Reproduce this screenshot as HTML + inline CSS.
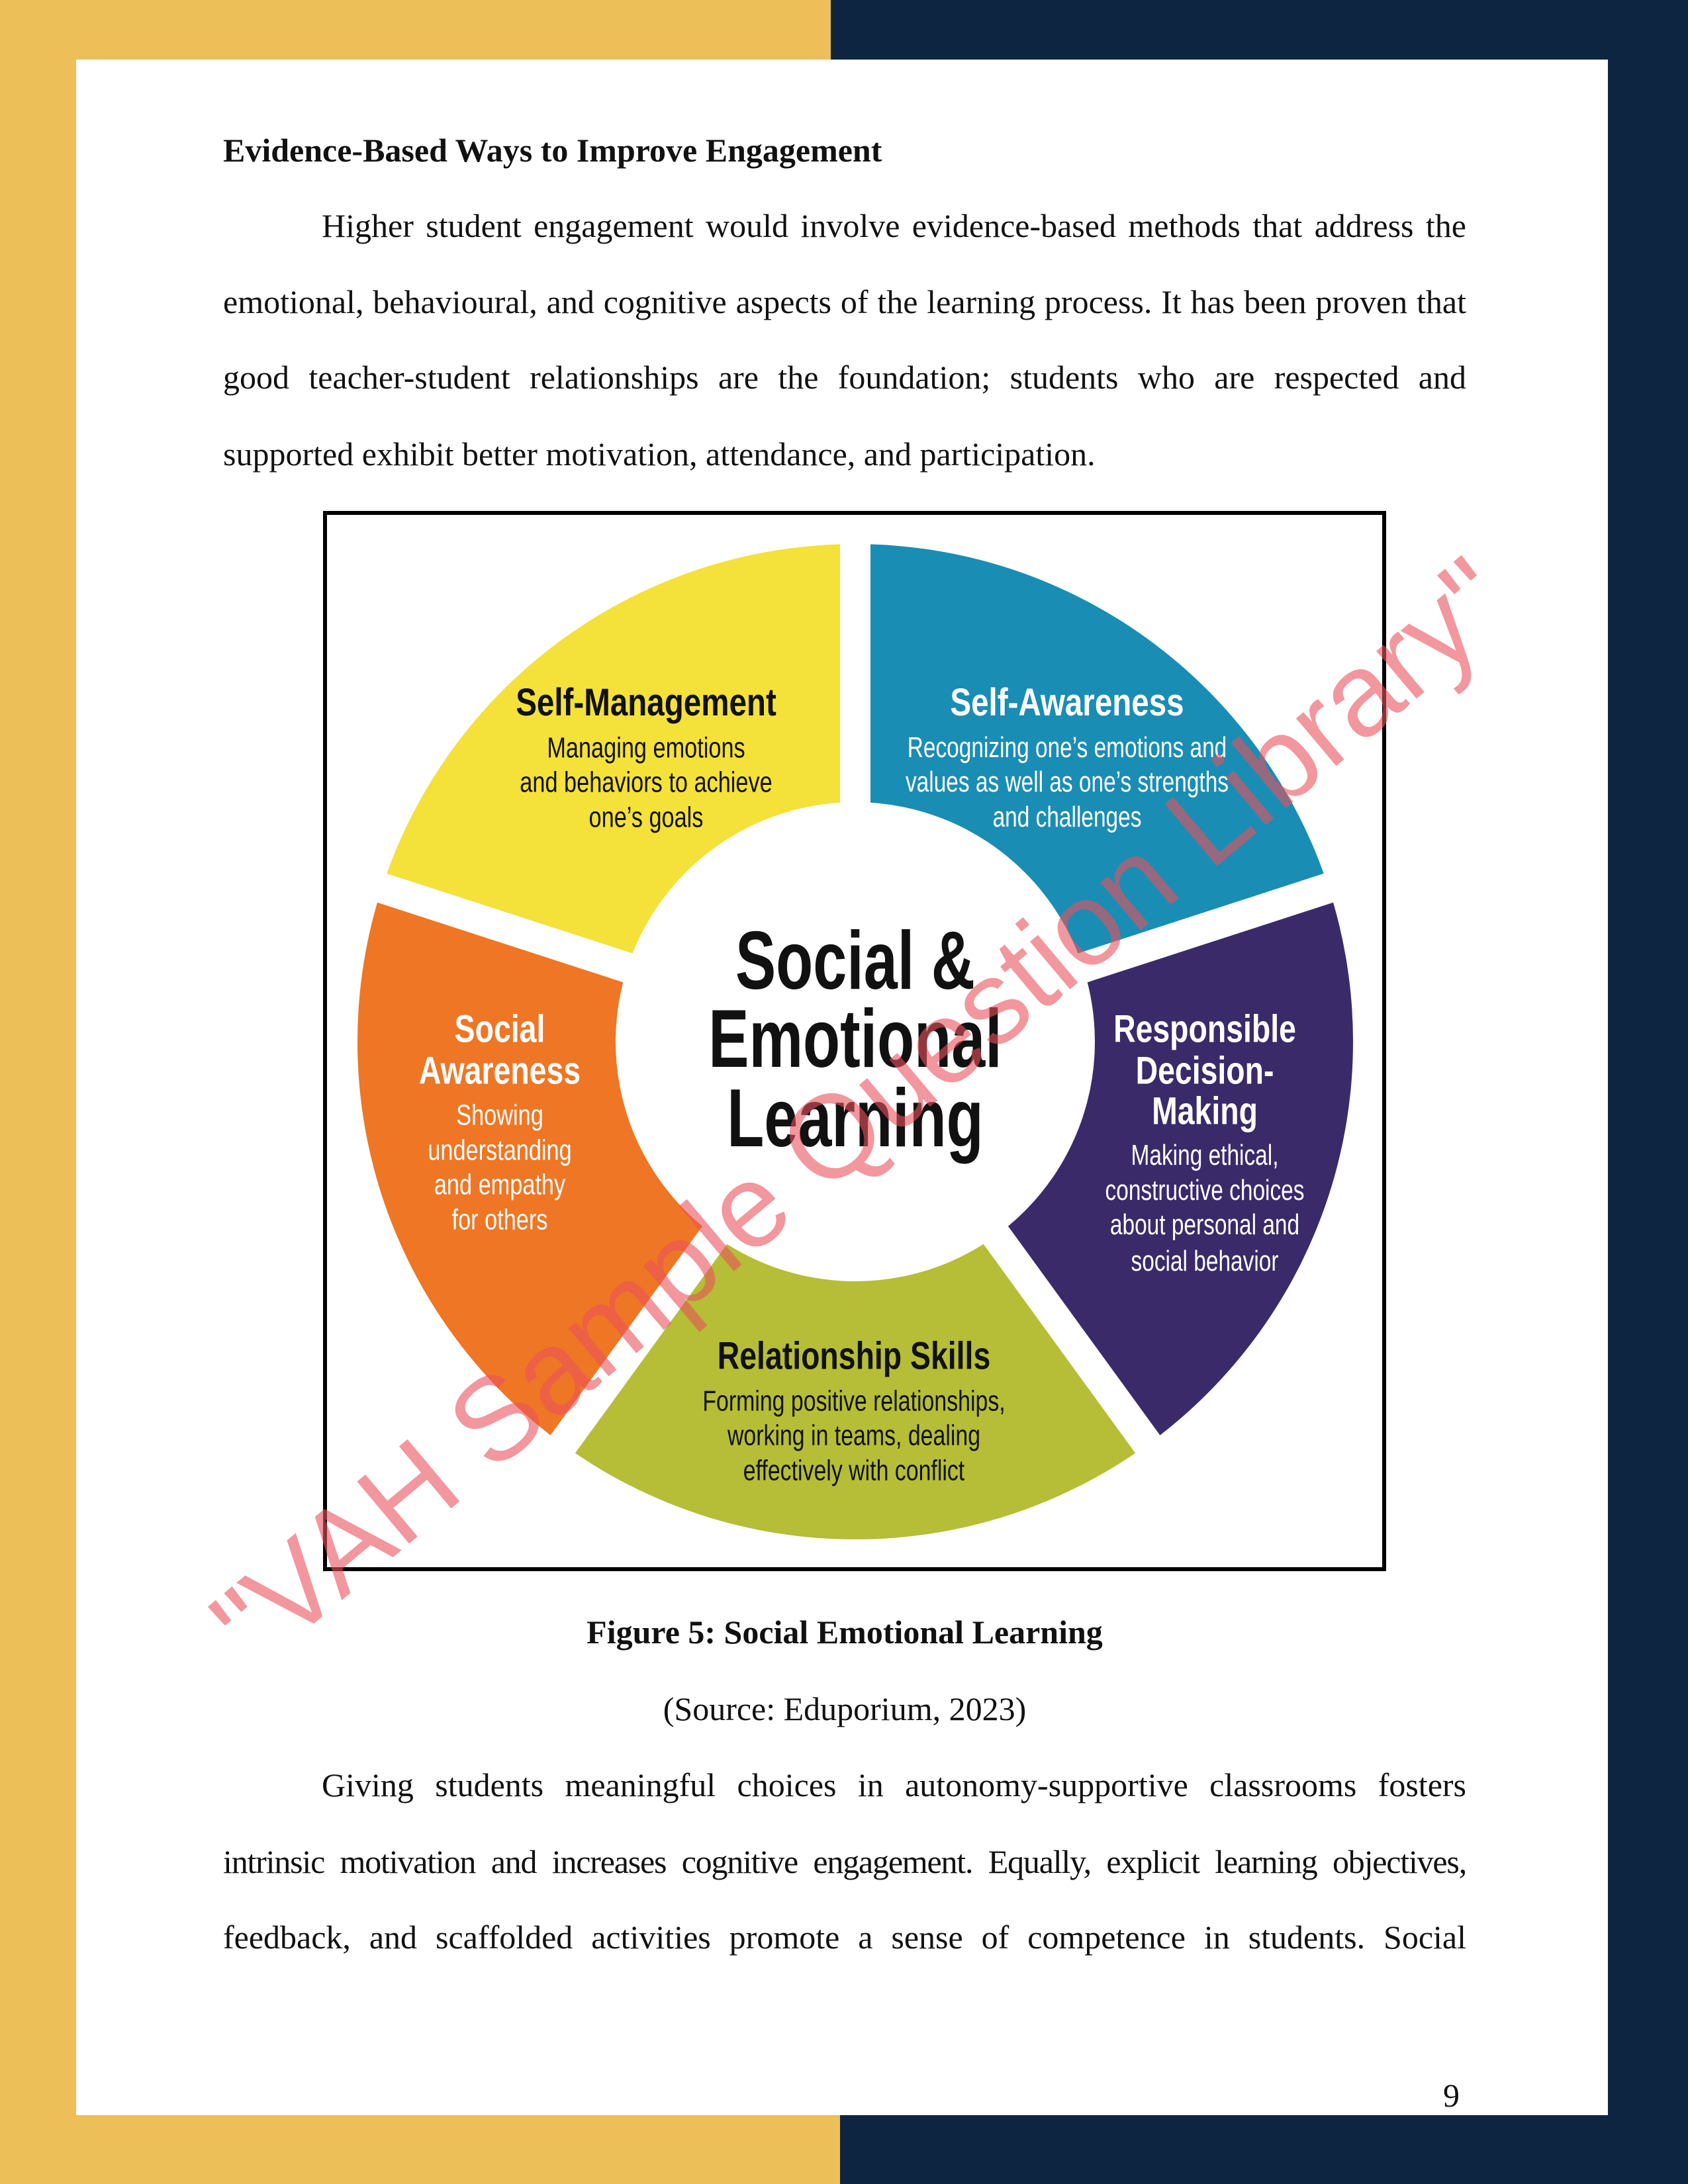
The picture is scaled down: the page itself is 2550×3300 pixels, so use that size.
<!DOCTYPE html>
<html><head><meta charset="utf-8"><style>
html,body{margin:0;padding:0}
body{width:2550px;height:3300px;position:relative;overflow:hidden;background:#0D2541;font-family:"Liberation Serif",serif}
.bg{position:absolute}
.t{position:absolute;left:337px;width:1878px;font-size:50px;line-height:60px;color:#111;white-space:nowrap}
.j{text-align:justify;text-align-last:justify;white-space:normal}
.c{text-align:center}
</style></head><body>
<div class="bg" style="left:0;top:0;width:1255px;height:90px;background:#EDBF59"></div>
<div class="bg" style="left:0;top:0;width:115px;height:3300px;background:#EDBF59"></div>
<div class="bg" style="left:0;top:3196px;width:1269px;height:104px;background:#EDBF59"></div>
<div class="bg" style="left:115px;top:90px;width:2314px;height:3106px;background:#fff"></div>

<div class="t" style="top:197px;font-weight:bold">Evidence-Based Ways to Improve Engagement</div>
<div class="t j" style="top:311px;left:486px;width:1729px">Higher student engagement would involve evidence-based methods that address the</div>
<div class="t j" style="top:426px">emotional, behavioural, and cognitive aspects of the learning process. It has been proven that</div>
<div class="t j" style="top:540px">good teacher-student relationships are the foundation; students who are respected and</div>
<div class="t" style="top:656px">supported exhibit better motivation, attendance, and participation.</div>

<div class="bg" style="left:488px;top:772px;width:1594px;height:1590px;border:6px solid #000;background:#fff"></div>

<svg class="bg" style="left:0;top:0" width="2550" height="3300" viewBox="0 0 2550 3300">
<g>
<path d="M1292 1574 L576.8 1341.6 A752 752 0 0 1 1292 822 Z" fill="#F4E13A"/>
<path d="M1292 1574 L1292 822 A752 752 0 0 1 2007.2 1341.6 Z" fill="#1A8DB4"/>
<path d="M1292 1574 L2007.2 1341.6 A752 752 0 0 1 1734 2182.4 Z" fill="#3A2A6A"/>
<path d="M1292 1574 L1734 2182.4 A752 752 0 0 1 850 2182.4 Z" fill="#B5BE36"/>
<path d="M1292 1574 L850 2182.4 A752 752 0 0 1 576.8 1341.6 Z" fill="#EF7624"/>
<g stroke="#fff" stroke-width="46">
<line x1="1292" y1="1574" x2="1292" y2="790"/>
<line x1="1292" y1="1574" x2="2040" y2="1331"/>
<line x1="1292" y1="1574" x2="1754" y2="2210"/>
<line x1="1292" y1="1574" x2="830" y2="2210"/>
<line x1="1292" y1="1574" x2="544" y2="1331"/>
</g>
<circle cx="1292" cy="1574" r="362" fill="#fff"/>
</g>
<g font-family="'Liberation Sans',sans-serif" text-anchor="middle" dominant-baseline="central">
<g fill="#111">
<g transform="translate(976 0) scale(0.82 1)"><text x="0" y="1062" font-size="58" font-weight="bold">Self-Management</text></g>
<g transform="translate(976 0) scale(0.78 1)" font-size="44">
<text x="0" y="1130">Managing emotions</text>
<text x="0" y="1182">and behaviors to achieve</text>
<text x="0" y="1235">one’s goals</text></g>
</g>
<g fill="#fff">
<g transform="translate(1612 0) scale(0.82 1)"><text x="0" y="1062" font-size="58" font-weight="bold">Self-Awareness</text></g>
<g transform="translate(1612 0) scale(0.76 1)" font-size="44">
<text x="0" y="1130">Recognizing one’s emotions and</text>
<text x="0" y="1182">values as well as one’s strengths</text>
<text x="0" y="1235">and challenges</text></g>
<g transform="translate(755 0) scale(0.8 1)" font-size="58" font-weight="bold">
<text x="0" y="1555">Social</text>
<text x="0" y="1618">Awareness</text></g>
<g transform="translate(755 0) scale(0.78 1)" font-size="44">
<text x="0" y="1685">Showing</text>
<text x="0" y="1738">understanding</text>
<text x="0" y="1790">and empathy</text>
<text x="0" y="1843">for others</text></g>
<g transform="translate(1820 0) scale(0.8 1)" font-size="58" font-weight="bold">
<text x="0" y="1555">Responsible</text>
<text x="0" y="1618">Decision-</text>
<text x="0" y="1679">Making</text></g>
<g transform="translate(1820 0) scale(0.76 1)" font-size="44">
<text x="0" y="1746">Making ethical,</text>
<text x="0" y="1799">constructive choices</text>
<text x="0" y="1851">about personal and</text>
<text x="0" y="1906">social behavior</text></g>
</g>
<g fill="#111">
<g transform="translate(1290 0) scale(0.8 1)"><text x="0" y="2049" font-size="58" font-weight="bold">Relationship Skills</text></g>
<g transform="translate(1290 0) scale(0.77 1)" font-size="44">
<text x="0" y="2117">Forming positive relationships,</text>
<text x="0" y="2169">working in teams, dealing</text>
<text x="0" y="2222">effectively with conflict</text></g>
<g transform="translate(1292 0) scale(0.74 1)" font-size="124" font-weight="bold">
<text x="0" y="1452">Social &amp;</text>
<text x="0" y="1570">Emotional</text>
<text x="0" y="1690">Learning</text></g>
</g>
</g>
<text x="1300" y="1680" transform="rotate(-40 1300 1680)" text-anchor="middle" dominant-baseline="central" font-family="'Liberation Sans',sans-serif" font-size="178" fill="#E9525C" fill-opacity="0.6">"VAH Sample Question Library"</text>
</svg>

<div class="t c" style="top:2436px;font-weight:bold">Figure 5: Social Emotional Learning</div>
<div class="t c" style="top:2552px">(Source: Eduporium, 2023)</div>
<div class="t j" style="top:2667px;left:486px;width:1729px">Giving students meaningful choices in autonomy-supportive classrooms fosters</div>
<div class="t j" style="top:2783px;letter-spacing:-1.2px;word-spacing:-3px">intrinsic motivation and increases cognitive engagement. Equally, explicit learning objectives,</div>
<div class="t j" style="top:2897px">feedback, and scaffolded activities promote a sense of competence in students. Social</div>
<div class="t" style="top:3136px;left:2180px;width:40px">9</div>
</body></html>
